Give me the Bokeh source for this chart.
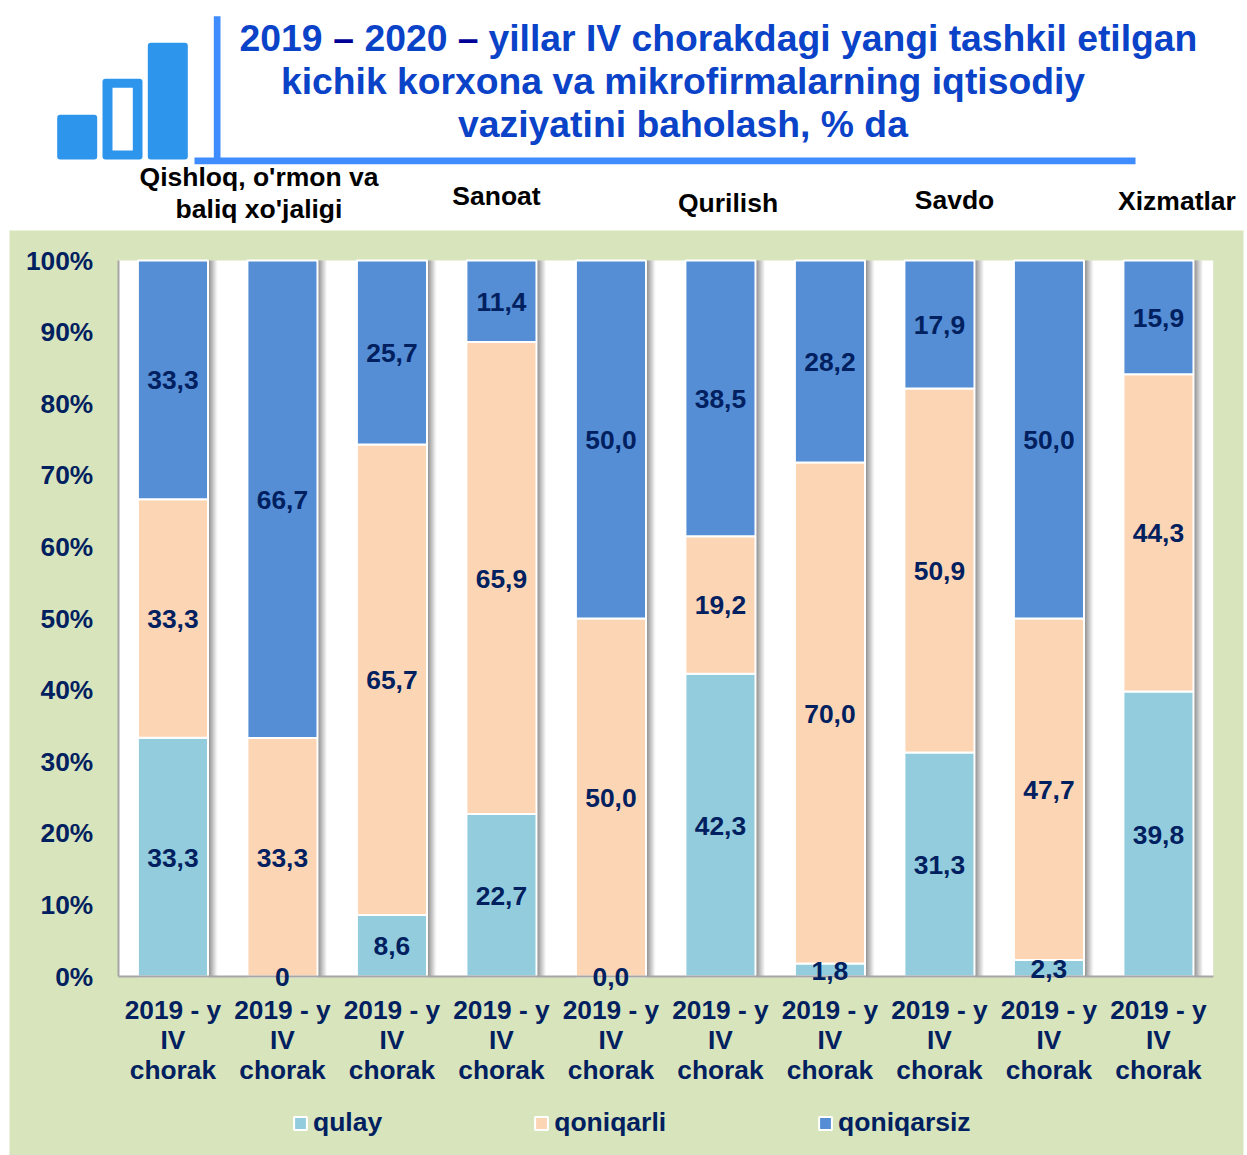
from bokeh.plotting import figure
from bokeh.core.properties import value
from bokeh.models import (BoxAnnotation, Label, LabelSet, ColumnDataSource, FixedTicker,
                          Legend, LegendItem, Range1d)
from bokeh.embed import file_html
from bokeh.resources import INLINE

sectors = [["Qishloq, o'rmon va", "baliq xo'jaligi"], ["Sanoat"], ["Qurilish"], ["Savdo"], ["Xizmatlar"]]
categories = ["2019 - y\nIV\nchorak"] * 10
series_names = ["qulay", "qoniqarli", "qoniqarsiz"]
qulay = [33.3, 0, 8.6, 22.7, 0, 42.3, 1.8, 31.3, 2.3, 39.8]
qoniqarli = [33.3, 33.3, 65.7, 65.9, 50.0, 19.2, 70.0, 50.9, 47.7, 44.3]
qoniqarsiz = [33.3, 66.7, 25.7, 11.4, 50.0, 38.5, 28.2, 17.9, 50.0, 15.9]
qulay_labels = ["33,3", "0", "8,6", "22,7", "0,0", "42,3", "1,8", "31,3", "2,3", "39,8"]
qoniqarli_labels = ["33,3", "33,3", "65,7", "65,9", "50,0", "19,2", "70,0", "50,9", "47,7", "44,3"]
qoniqarsiz_labels = ["33,3", "66,7", "25,7", "11,4", "50,0", "38,5", "28,2", "17,9", "50,0", "15,9"]
y_ticks = [0, 10, 20, 30, 40, 50, 60, 70, 80, 90, 100]

FONT = "Liberation Sans"
NAVY = "#002060"
GREEN = "#D8E4BC"
BLUE = "#3F8CFF"
ICON = "#2E95EC"
TITLE = "#0A42C8"
COLORS = ["#93CDDD", "#FCD5B5", "#558ED5"]
W, H = 1247, 1155
PLOT_L, PLOT_R, PLOT_T, PLOT_B = 117.7, 1212.7, 260, 976

xs = list(range(1, 11))
totals = [a + b + c for a, b, c in zip(qulay, qoniqarli, qoniqarsiz)]
p1 = [100 * a / t for a, t in zip(qulay, totals)]
p2 = [100 * a / t for a, t in zip(qoniqarli, totals)]
p3 = [100 * a / t for a, t in zip(qoniqarsiz, totals)]
b1 = [0.0] * 10
b2 = p1
b3 = [a + b for a, b in zip(p1, p2)]
t3 = [a + b for a, b in zip(b3, p3)]

# the frame fills the whole canvas, so that nothing outside the plot area is clipped
xu = (PLOT_R - PLOT_L) / 10
yu = (PLOT_B - PLOT_T) / 100
p = figure(width=W, height=H, output_backend="svg", toolbar_location=None,
           x_range=Range1d(0.5 - PLOT_L / xu, 0.5 + (W - PLOT_L) / xu),
           y_range=Range1d((PLOT_B - H) / yu, PLOT_B / yu),
           min_border=0, border_fill_color="white", background_fill_color="white",
           outline_line_color=None)
p.grid.visible = False


def box(l, t, r, b, color, radius=0, level="underlay"):
    p.add_layout(BoxAnnotation(left=l, right=r, top=t, bottom=b,
                               left_units="canvas", right_units="canvas",
                               top_units="canvas", bottom_units="canvas",
                               fill_color=color, fill_alpha=1, line_color=None,
                               border_radius=radius, level=level))


def text(x, y, s, size, color, align="center"):
    p.add_layout(Label(x=x, y=y, x_units="canvas", y_units="canvas", text=s,
                       text_font=FONT, text_font_style="bold", text_font_size=f"{size}px",
                       text_color=color, text_align=align, text_baseline="middle"))


# green panel and white plot area
box(9, 230, 1243, 1155, GREEN)
p.add_layout(BoxAnnotation(left=0.5, right=10.5, bottom=0, top=100, fill_color="white", fill_alpha=1,
                           line_color=None, level="underlay"))

# icon and rules
box(56.7, 114.3, 96.7, 159, ICON, 3)
box(102, 78.3, 142, 159, ICON, 3)
box(112, 87.3, 132.3, 150, "white")
box(147.3, 42.3, 187.3, 159, ICON, 3)
box(213.3, 15.7, 220, 160, BLUE)
box(194, 157, 1135, 163.7, BLUE)

# title
T = 37.3
text(239, 37, "2019", T, TITLE, "left")
text(343, 37, "–", T, "#000099")
text(364, 37, "2020", T, TITLE, "left")
text(467.5, 37, "–", T, "#000099")
text(488, 37, "yillar IV chorakdagi yangi tashkil etilgan", T, TITLE, "left")
text(682.5, 80, "kichik korxona va mikrofirmalarning iqtisodiy", T, TITLE)
text(682.5, 123, "vaziyatini baholash, % da", T, TITLE)

# sector headings
S = 26.5
text(258.5, 176, sectors[0][0], S, "black")
text(258.5, 208, sectors[0][1], S, "black")
text(496, 195, sectors[1][0], S, "black")
text(727.5, 202, sectors[2][0], S, "black")
text(954, 199, sectors[3][0], S, "black")
text(1176.5, 200, sectors[4][0], S, "black")

# bar shadows, layered for a soft right edge
half = 0.32
for d, a in [(0.085, 0.04), (0.075, 0.05), (0.065, 0.06), (0.055, 0.06),
             (0.045, 0.07), (0.035, 0.07), (0.025, 0.08), (0.015, 0.08)]:
    p.quad(left=[x - half for x in xs], right=[x + half + d for x in xs],
           bottom=b1, top=t3, fill_color="black", fill_alpha=a, line_color=None)

# bars
src = ColumnDataSource(dict(x=xs, b1=b1, t1=p1, b2=b2, t2=b3, b3=b3, t3=t3))
r1 = p.vbar(x="x", width=2 * half, bottom="b1", top="t1", source=src, fill_color=COLORS[0],
            line_color="white", line_width=2)
r2 = p.vbar(x="x", width=2 * half, bottom="b2", top="t2", source=src, fill_color=COLORS[1],
            line_color="white", line_width=2)
r3 = p.vbar(x="x", width=2 * half, bottom="b3", top="t3", source=src, fill_color=COLORS[2],
            line_color="white", line_width=2)

# axes
p.xaxis.ticker = FixedTicker(ticks=xs)
p.xaxis.major_label_overrides = dict(zip(xs, categories))
p.yaxis.ticker = FixedTicker(ticks=y_ticks)
p.yaxis.major_label_overrides = {v: f"{v}%" for v in y_ticks}
p.xaxis.fixed_location = 0
p.yaxis.fixed_location = 0.5
p.xaxis.bounds = (0.5, 10.5)
p.yaxis.bounds = (0, 100)
for ax in (p.xaxis[0], p.yaxis[0]):
    ax.major_tick_line_color = None
    ax.minor_tick_line_color = None
    ax.axis_line_color = "#A6A6A6"
    ax.axis_line_width = 2
    ax.major_label_text_font = FONT
    ax.major_label_text_font_style = "bold"
    ax.major_label_text_font_size = "26.3px"
    ax.major_label_text_color = NAVY
p.xaxis.major_label_standoff = 12
p.xaxis.major_label_text_line_height = 1.0
p.yaxis.major_label_standoff = 19

# data labels
for bottoms, vals, labs in [(b1, p1, qulay_labels), (b2, p2, qoniqarli_labels), (b3, p3, qoniqarsiz_labels)]:
    s = ColumnDataSource(dict(x=xs, y=[b + v / 2 for b, v in zip(bottoms, vals)], t=labs))
    p.add_layout(LabelSet(x="x", y="y", text="t", source=s, text_align="center", text_baseline="middle",
                          text_font=value(FONT), text_font_style="bold", text_font_size="26.4px",
                          text_color=NAVY, level="overlay", y_offset=-0.5))

# legend
legend = Legend(items=[LegendItem(label=n, renderers=[r]) for n, r in zip(series_names, [r1, r2, r3])],
                orientation="horizontal", location=(292, 17), spacing=151, padding=0, margin=0,
                glyph_width=16, glyph_height=16, label_standoff=5,
                background_fill_alpha=0, border_line_color=None,
                label_text_font=FONT, label_text_font_style="bold", label_text_font_size="26.5px",
                label_text_color=NAVY)
p.add_layout(legend, "center")

open("out.html", "w").write(file_html(p, INLINE))
